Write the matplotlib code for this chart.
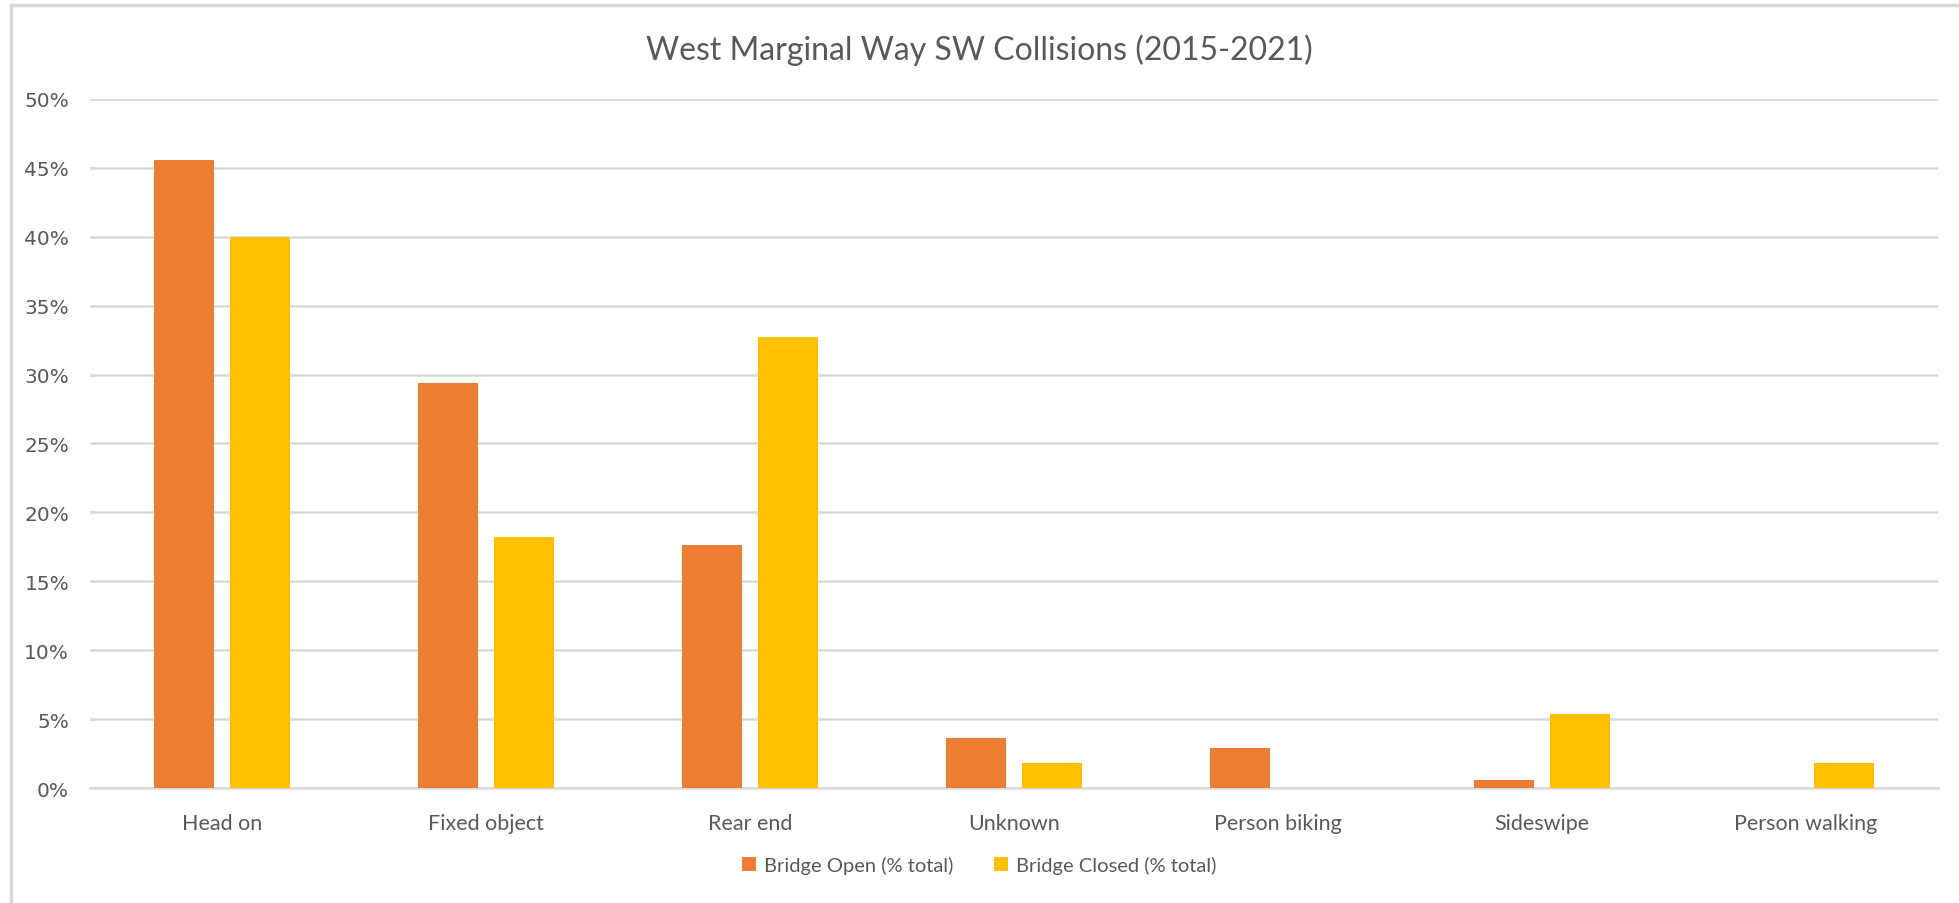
import matplotlib
matplotlib.use("Agg")
import matplotlib.pyplot as plt
import numpy as np
from matplotlib.patches import Rectangle

categories = ["Head on", "Fixed object", "Rear end", "Unknown",
              "Person biking", "Sideswipe", "Person walking"]
bridge_open = [45.6, 29.4, 17.6, 3.6, 2.9, 0.6, 0.0]
bridge_closed = [40.0, 18.2, 32.7, 1.8, 0.0, 5.4, 1.8]
series_names = ["Bridge Open (% total)", "Bridge Closed (% total)"]
yticks = [0, 5, 10, 15, 20, 25, 30, 35, 40, 45, 50]

orange = "#ED7D31"
yellow = "#FFC000"
textc = "#595959"
gridc = "#D9D9D9"

plt.rcParams['font.family'] = ['Lato', 'DejaVu Sans']

fig = plt.figure(figsize=(19.59, 9.04), dpi=100)
ax = fig.add_axes([0.0459, 0.1272, 0.9434, 0.7622])

# chart border
fig.patches.append(Rectangle((11 / 1959, -0.01), 1.1, 1 - 6 / 904 + 0.01,
                             transform=fig.transFigure, fill=False,
                             edgecolor=gridc, linewidth=2.5))

x = np.arange(len(categories))
w = 0.227
off = 0.143
ax.bar(x - off, bridge_open, w, color=orange, label=series_names[0], zorder=3)
ax.bar(x + off, bridge_closed, w, color=yellow, label=series_names[1], zorder=3)

ax.set_xlim(-0.5, len(categories) - 0.5)
ax.set_ylim(0, 50)
ax.set_yticks(yticks)
ax.set_yticklabels([f"{v}%" for v in yticks])
ax.set_xticks(x)
ax.set_xticklabels(categories)
ax.tick_params(axis='both', length=0, colors=textc)
ax.tick_params(axis='x', pad=18, labelsize=15.5)
ax.tick_params(axis='y', pad=15)
for lbl in ax.get_yticklabels():
    lbl.set_family(['DejaVu Sans'])
    lbl.set_fontsize(14.5)

ax.yaxis.grid(True, color=gridc, linewidth=1.8, zorder=0)
for s in ["top", "right", "left"]:
    ax.spines[s].set_visible(False)
ax.spines["bottom"].set_color(gridc)
ax.spines["bottom"].set_linewidth(1.8)

fig.text(0.5, 1 - 50 / 904, "West Marginal Way SW Collisions (2015-2021)",
         ha="center", va="center", fontsize=23, color=textc)

fig.legend(loc="center", bbox_to_anchor=(0.5, 1 - 866 / 904), ncol=2,
           frameon=False, fontsize=14.5, labelcolor=textc, handlelength=0.7,
           handleheight=0.7, handletextpad=0.4, columnspacing=2.0)

fig.savefig("out.png", dpi=100)
